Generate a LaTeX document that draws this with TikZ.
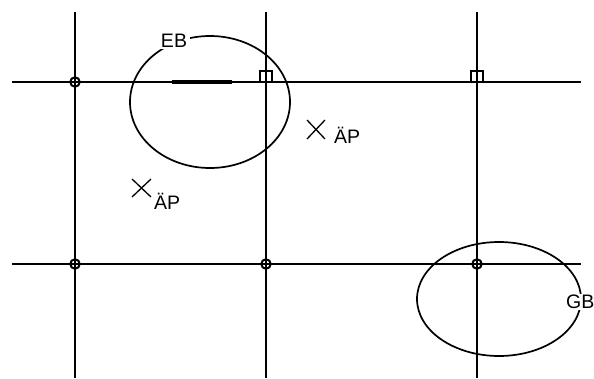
\documentclass[tikz,border=0pt]{standalone}
\usepackage{fontspec}
\setmainfont{Liberation Sans}
\begin{document}
\begin{tikzpicture}[x=1pt,y=-1pt,
  vline/.style={line width=2.6pt},
  hline/.style={line width=2pt},
  ell/.style={line width=1.7pt},
  lbl/.style={font=\fontsize{19.5}{20}\selectfont, inner sep=1pt},
  ringmark/.style={circle, draw, line width=2pt, minimum size=9.5pt, inner sep=0pt},
  boxmark/.style={line width=1.5pt},
  xmark/.style={line width=1.3pt}]
\useasboundingbox (0,0) rectangle (594,378);
% grid lines
\coordinate (v1t) at (75,12);  \coordinate (v1b) at (75,378);
\coordinate (v2t) at (266,12); \coordinate (v2b) at (266,378);
\coordinate (v3t) at (477,12); \coordinate (v3b) at (477,378);
\coordinate (h1l) at (12,82);  \coordinate (h1r) at (581,82);
\coordinate (h2l) at (12,264); \coordinate (h2r) at (581,264);
\draw[vline] (v1t) -- (v1b);
\draw[vline] (v2t) -- (v2b);
\draw[vline] (v3t) -- (v3b);
\draw[hline] (h1l) -- (h1r);
\draw[hline] (h2l) -- (h2r);
% thick segment inside EB
\coordinate (s1) at (172,82); \coordinate (s2) at (232,82);
\draw[line width=3.2pt] (s1) -- (s2);
% ellipses
\draw[ell] (210,102) ellipse [x radius=80, y radius=66];
\draw[ell] (499,299) ellipse [x radius=82, y radius=57];
% labels with gaps
\node[lbl, fill=white, inner xsep=3pt] (EB) at (174,41) {EB};
\node[lbl, fill=white, anchor=west] (GB) at (565,302) {GB};
% markers
\node[ringmark] (m1) at (75,82) {};
\node[ringmark] (m4) at (75,264) {};
\node[ringmark] (m5) at (266,264) {};
\node[ringmark] (m6) at (477,264) {};
\draw[boxmark] (260,82) -- (260,71) -- (272,71) -- (272,82);
\draw[boxmark] (471,82) -- (471,71) -- (483,71) -- (483,82);
% AP points
\draw[xmark] (307,120) -- (325,139) (307,139) -- (325,120);
\node[lbl, anchor=west] (ap1) at (333,135) {ÄP};
\draw[xmark] (132,179) -- (151,197) (132,197) -- (151,179);
\node[lbl, anchor=west] (ap2) at (153,201) {ÄP};
\end{tikzpicture}
\end{document}
